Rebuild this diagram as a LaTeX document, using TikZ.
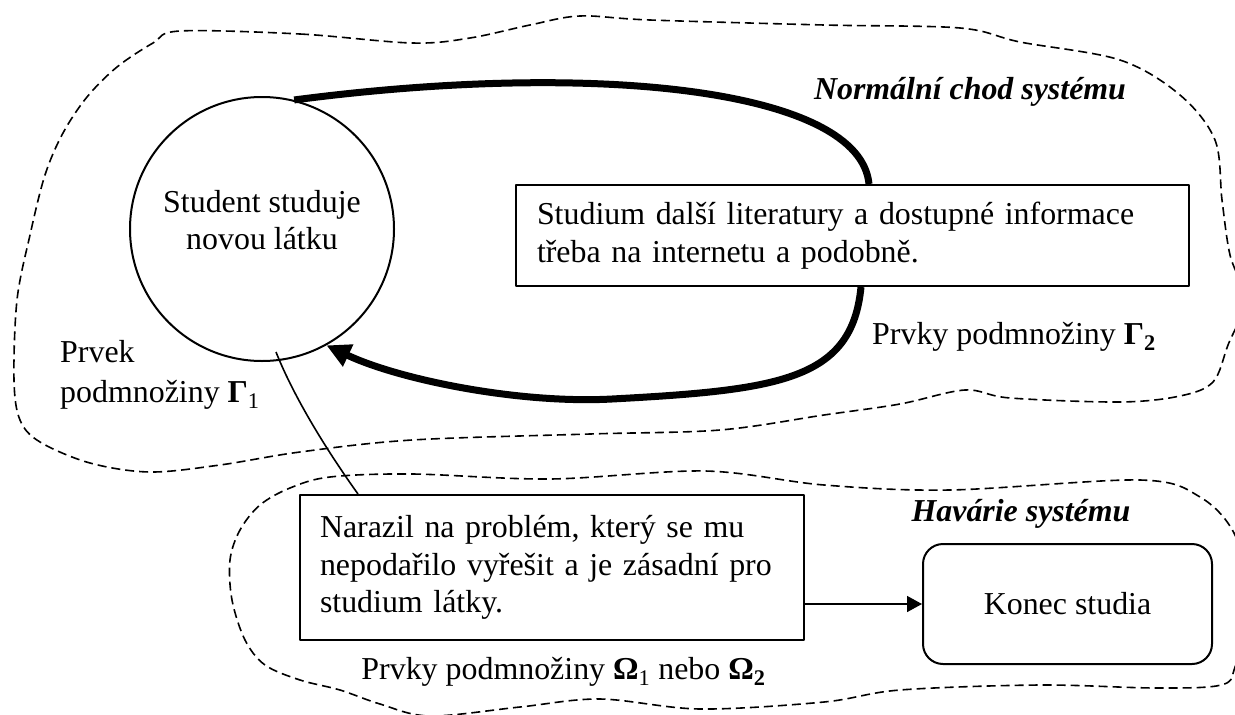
\documentclass[tikz,border=0pt]{standalone}
\usepackage{fontspec}
\setmainfont{Liberation Serif}
\usetikzlibrary{arrows.meta,calc}
\begin{document}
\begin{tikzpicture}[x=1pt,y=-1pt,line join=round,
  every node/.style={font=\fontsize{31.9}{37.5}\selectfont, inner sep=0pt},
  rectbox/.style={draw, line width=2pt, rectangle},
  blob/.style={draw, line width=1.6pt, dash pattern=on 9pt off 5pt},
  heavy/.style={line width=7pt},
  thinline/.style={line width=1.6pt},
  headline/.style={font=\fontsize{31.9}{37.5}\selectfont\bfseries\itshape}]
\useasboundingbox (0,0) rectangle (1235,715);
\clip (0,0) rectangle (1235,715);

% upper dashed region
\draw[blob] plot[smooth cycle, tension=0.55] coordinates {
 (180,31) (300,34) (412,43) (470,38) (530,25) (580,16) (650,20) (824,25)
 (960,28) (1020,42) (1120,60) (1180,95) (1215,140) (1222,200) (1230,255)
 (1245,300) (1228,345) (1213,382) (1180,396) (1120,402) (1010,398) (965,390)
 (900,404) (824,415) (720,430) (590,434) (412,440) (300,452) (220,465)
 (150,472) (90,463) (40,442) (20,420) (14,380) (17,300) (30,235) (45,175)
 (63,133) (87,97) (117,67) (153,43)};

% lower dashed region
\draw[blob] plot[smooth cycle, tension=0.55] coordinates {
 (330,477) (412,474) (550,479) (705,471) (824,485) (950,490) (1140,480)
 (1200,497) (1235,535) (1250,600) (1235,667) (1221,685) (1156,688) (1040,685)
 (900,690) (824,702) (700,709) (600,699) (520,707) (430,716) (380,704)
 (340,690) (300,680) (265,665) (245,640) (232,600) (230,560) (240,530)
 (260,505) (290,488)};

% nodes
\node[circle, draw, line width=2pt, minimum size=264pt] (c) at (262,229) {};
\node[align=center] (ct) at (262,220) {Student studuje\\novou látku};
\node[rectbox, minimum width=673pt, minimum height=101pt, text width=631pt, align=left]
  (b1) at (852.5,235.5) {Studium další literatury a dostupné informace\\třeba na internetu a podobně.};
\node[rectbox, minimum width=504pt, minimum height=145pt, text width=464pt, align=left]
  (b2) at (552,567.5) {Narazil na problém, který se mu\\nepodařilo vyřešit a je zásadní pro\\studium látky.};
\node[draw, line width=2pt, rounded corners=20pt, minimum width=289pt, minimum height=120pt]
  (k) at (1067.5,604) {Konec studia};

\node[headline] (n1) at (970,92) {Normální chod systému};
\node[headline] (hs) at (1021,514) {Havárie systému};
\node (g2) at (1014,337) {Prvky podmnožiny \textbf{Γ\textsubscript{2}}};
\node[align=left, anchor=west] (g1) at (60,375) {Prvek\\[2.5pt]podmnožiny \textbf{Γ}\textsubscript{1}};
\node (om) at (563.5,672) {Prvky podmnožiny \textbf{Ω}\textsubscript{1} nebo \textbf{Ω\textsubscript{2}}};

% connectors
\draw[heavy] (c.76) .. controls (600,60) and (860,90) .. ([xshift=16.5pt]b1.north);
\draw[heavy, -{Triangle[length=24pt,width=23pt]}] ([xshift=8.5pt]b1.south)
  .. controls (852,380) and (780,390) .. (612,399)
  .. controls (520,404) and (400,380) .. (c.-61);
\draw[thinline] ($(c.center)+(14,123)$) .. controls (295,400) and (330,455) .. ([xshift=-194pt]b2.north);
\draw[thinline, -{Triangle[length=15pt,width=16pt]}] (b2.east |- k.west) -- (k.west);
\end{tikzpicture}
\end{document}
